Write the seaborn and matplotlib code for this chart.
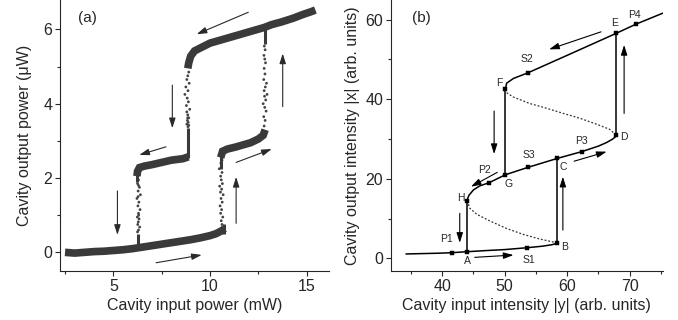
import matplotlib
matplotlib.use("Agg")
import matplotlib.pyplot as plt
import seaborn as sns
from matplotlib.ticker import MultipleLocator

# ---------------- panel (a): measured hysteresis ----------------
# forward sweep, lower branch
a_low_x = [2.5, 3.0, 3.5, 4.0, 4.5, 5.0, 5.5, 6.0, 6.5, 7.0, 7.5, 8.0, 8.5, 9.0, 9.5, 10.0, 10.3, 10.6, 10.75]
a_low_y = [0.0, -0.02, 0.0, 0.02, 0.03, 0.05, 0.07, 0.1, 0.14, 0.18, 0.22, 0.26, 0.3, 0.34, 0.39, 0.45, 0.5, 0.58, 0.64]
# forward sweep, middle branch
a_mid_f_x = [10.55, 10.65, 10.9, 11.3, 11.7, 12.1, 12.5, 12.75, 12.85]
a_mid_f_y = [2.55, 2.72, 2.78, 2.83, 2.89, 2.95, 3.05, 3.15, 3.3]
# upper branch (both directions)
a_up_x = [8.85, 8.9, 9.0, 9.2, 9.5, 10.0, 11.0, 12.0, 12.8, 13.2, 13.7, 14.3, 14.8, 15.2, 15.45]
a_up_y = [4.95, 5.1, 5.28, 5.42, 5.5, 5.63, 5.78, 5.93, 6.05, 6.13, 6.2, 6.3, 6.4, 6.47, 6.52]
# backward sweep, middle branch
a_mid_b_x = [8.88, 8.6, 8.0, 7.5, 7.0, 6.6, 6.35, 6.25, 6.22]
a_mid_b_y = [2.57, 2.52, 2.48, 2.42, 2.36, 2.32, 2.28, 2.18, 2.05]
# short solid vertical pieces at the switching points
a_seg_x = [[8.88, 8.88], [12.82, 12.82], [10.7, 10.7], [10.56, 10.56], [6.24, 6.24], [6.26, 6.26]]
a_seg_y = [[2.55, 3.35], [5.6, 6.1], [0.5, 0.75], [2.25, 2.75], [1.9, 2.3], [0.1, 0.5]]
# sparse points on the switching transitions
a_dot_x = [10.62, 10.58, 10.66, 10.55, 10.6, 10.52, 10.63, 10.57, 10.68, 10.54, 10.6, 10.5, 10.64, 10.58, 10.55, 10.62, 10.48, 10.6, 10.56, 10.62,
           12.8, 12.85, 12.78, 12.9, 12.83, 12.75, 12.88, 12.82, 12.95, 12.8, 12.86, 12.92, 12.78, 12.84, 12.8, 12.87, 12.83, 12.79, 12.85, 12.81,
           8.9, 8.85, 8.8, 8.92, 8.75, 8.86, 8.7, 8.82, 8.88, 8.78, 8.95, 8.8, 8.85, 8.9, 8.83, 8.87, 8.8, 8.9, 8.86, 8.84,
           6.3, 6.25, 6.35, 6.28, 6.4, 6.22, 6.32, 6.27, 6.38, 6.3, 6.24, 6.33, 6.29, 6.26, 6.36, 6.3, 6.25, 6.31, 6.28, 6.3]
a_dot_y = [0.75, 0.85, 0.95, 1.05, 1.15, 1.25, 1.35, 1.45, 1.55, 1.62, 1.7, 1.78, 1.85, 1.95, 2.05, 2.15, 2.25, 2.3, 2.4, 2.48,
           3.4, 3.55, 3.65, 3.8, 3.9, 4.0, 4.1, 4.2, 4.25, 4.35, 4.45, 4.55, 4.65, 4.8, 4.95, 5.1, 5.2, 5.3, 5.45, 5.55,
           4.85, 4.75, 4.65, 4.55, 4.45, 4.35, 4.25, 4.15, 4.05, 3.95, 3.85, 3.78, 3.7, 3.62, 3.55, 3.5, 3.45, 3.42, 3.38, 3.62,
           1.95, 1.85, 1.75, 1.65, 1.55, 1.45, 1.35, 1.25, 1.15, 1.05, 0.95, 0.9, 0.82, 0.75, 0.68, 0.6, 0.55, 1.0, 1.5, 1.8]
# arrows (start x, start y, end x, end y)
a_arrows = [(11.98, 6.46, 9.31, 5.87), (8.05, 4.50, 8.05, 3.34), (7.72, 2.84, 6.34, 2.62),
            (5.21, 1.65, 5.21, 0.47), (7.21, -0.28, 9.57, -0.07), (11.35, 0.78, 11.35, 2.03),
            (11.35, 2.42, 13.19, 2.78), (13.76, 3.92, 13.76, 5.35)]

# ---------------- panel (b): calculated S-curve ----------------
b_low_y = [34.2, 37.0, 39.6, 41.5, 44.0, 47.0, 50.0, 53.6, 56.0, 57.5, 58.4]
b_low_x = [1.1, 1.2, 1.3, 1.42, 1.67, 1.95, 2.2, 2.67, 3.05, 3.4, 3.77]
b_unst1_y = [58.4, 57.5, 55.6, 53.0, 50.3, 47.6, 45.5, 44.4, 44.0]
b_unst1_x = [3.77, 4.2, 4.85, 6.0, 7.5, 9.4, 11.1, 12.6, 14.4]
b_mid_y = [44.0, 44.1, 44.3, 45.0, 46.0, 47.5, 50.1, 53.8, 58.4, 62.3, 65.0, 66.3, 67.2, 67.7, 67.8]
b_mid_x = [14.4, 15.2, 15.9, 17.2, 18.2, 19.0, 21.0, 22.9, 25.1, 26.8, 28.2, 29.1, 29.9, 30.5, 31.0]
b_unst2_y = [67.8, 66.8, 64.7, 62.0, 59.4, 56.7, 54.0, 51.4, 50.4, 50.1]
b_unst2_x = [31.0, 32.4, 33.7, 35.2, 36.4, 37.7, 38.9, 40.5, 41.5, 42.5]
b_up_y = [50.1, 50.3, 51.4, 53.7, 60.7, 67.8, 70.95, 75.3]
b_up_x = [42.5, 44.0, 45.2, 46.6, 51.5, 56.5, 58.8, 61.6]
b_jumps = [(44.0, 1.67, 14.4), (58.4, 3.77, 25.1), (67.8, 31.0, 56.5), (50.1, 42.5, 21.0)]
b_pt_names = ["P1", "A", "S1", "B", "H", "P2", "G", "S3", "C", "P3", "D", "F", "S2", "E", "P4"]
b_pt_y = [41.5, 44.0, 53.6, 58.4, 44.0, 47.5, 50.1, 53.8, 58.4, 62.3, 67.8, 50.1, 53.7, 67.8, 70.95]
b_pt_x = [1.42, 1.67, 2.67, 3.77, 14.4, 19.0, 21.0, 22.9, 25.1, 26.8, 31.0, 42.5, 46.6, 56.5, 58.8]
b_lab_y = [40.7, 44.1, 53.8, 59.6, 43.0, 46.7, 50.6, 53.9, 59.4, 62.3, 69.1, 49.1, 53.6, 67.5, 70.7]
b_lab_x = [4.8, -0.6, -0.4, 2.9, 15.1, 22.2, 18.6, 25.95, 22.9, 29.5, 30.6, 44.0, 50.0, 59.0, 61.1]
b_arrows = [(65.4, 56.9, 57.1, 52.5), (48.3, 37.0, 48.3, 26.2), (48.8, 21.6, 44.6, 18.0),
            (42.8, 11.3, 42.8, 3.9), (45.2, 0.25, 51.4, 0.83), (59.3, 7.1, 59.3, 20.5),
            (61.1, 24.4, 66.3, 26.8), (69.1, 36.4, 69.1, 53.6)]

sns.set_style("ticks")
plt.rcParams["font.family"] = ["Liberation Sans", "DejaVu Sans"]
plt.rcParams["axes.linewidth"] = 0.8

fig = plt.figure(figsize=(6.78, 3.2), dpi=100)
axa = fig.add_axes([0.0885, 0.153, 0.3972, 0.847])
axb = fig.add_axes([0.5767, 0.153, 0.4007, 0.847])

band = "#3a3a3a"
kw_band = dict(color=band, lw=5.5, sort=False, estimator=None, legend=False,
               solid_capstyle="butt", solid_joinstyle="miter")
sns.lineplot(x=a_low_x, y=a_low_y, ax=axa, **kw_band)
sns.lineplot(x=a_mid_f_x, y=a_mid_f_y, ax=axa, **kw_band)
sns.lineplot(x=a_up_x, y=a_up_y, ax=axa, **kw_band)
sns.lineplot(x=a_mid_b_x, y=a_mid_b_y, ax=axa, **kw_band)
for sx, sy in zip(a_seg_x, a_seg_y):
    sns.lineplot(x=sx, y=sy, ax=axa, color=band, lw=2.2, sort=False, estimator=None, legend=False,
                 solid_capstyle="butt")
sns.scatterplot(x=a_dot_x, y=a_dot_y, ax=axa, s=4, color="#444444", edgecolor="none", legend=False)
for x0, y0, x1, y1 in a_arrows:
    axa.annotate("", xy=(x1, y1), xytext=(x0, y0),
                 arrowprops=dict(arrowstyle="-|>,head_length=0.75,head_width=0.24", lw=0.8,
                                 color="#2a2a2a", shrinkA=0, shrinkB=0, mutation_scale=8))

axa.set_xlim(2.24, 16.17)
axa.set_ylim(-0.503, 6.79)
axa.xaxis.set_major_locator(MultipleLocator(5))
axa.xaxis.set_minor_locator(MultipleLocator(2.5))
axa.yaxis.set_major_locator(MultipleLocator(2))
axa.yaxis.set_minor_locator(MultipleLocator(1))
axa.set_xlabel("Cavity input power (mW)", fontsize=11.5, labelpad=3)
axa.set_ylabel("Cavity output power (μW)", fontsize=11.5, labelpad=8)
axa.text(0.066, 0.935, "(a)", transform=axa.transAxes, fontsize=11, va="center", ha="left")

# panel b
sns.lineplot(x=b_low_y, y=b_low_x, ax=axb, color="black", lw=1.1, sort=False, estimator=None, legend=False)
sns.lineplot(x=b_mid_y, y=b_mid_x, ax=axb, color="black", lw=1.1, sort=False, estimator=None, legend=False)
sns.lineplot(x=b_up_y, y=b_up_x, ax=axb, color="black", lw=1.1, sort=False, estimator=None, legend=False)
sns.lineplot(x=b_unst1_y, y=b_unst1_x, ax=axb, color="#333333", lw=0.9, sort=False, estimator=None,
             legend=False, linestyle=(0, (1.5, 1.5)))
sns.lineplot(x=b_unst2_y, y=b_unst2_x, ax=axb, color="#333333", lw=0.9, sort=False, estimator=None,
             legend=False, linestyle=(0, (1.5, 1.5)))
for xv, ya, yb in b_jumps:
    sns.lineplot(x=[xv, xv], y=[ya, yb], ax=axb, color="black", lw=1.1, sort=False, estimator=None, legend=False)
sns.scatterplot(x=b_pt_y, y=b_pt_x, ax=axb, marker="s", s=10, color="black", edgecolor="black", linewidth=0.3, legend=False, zorder=5)
for name, lx, ly in zip(b_pt_names, b_lab_y, b_lab_x):
    axb.text(lx, ly, name, fontsize=7.5, ha="center", va="center")
for x0, y0, x1, y1 in b_arrows:
    axb.annotate("", xy=(x1, y1), xytext=(x0, y0),
                 arrowprops=dict(arrowstyle="-|>,head_length=0.75,head_width=0.24", lw=0.8,
                                 color="black", shrinkA=0, shrinkB=0, mutation_scale=8))

axb.set_xlim(31.8, 75.27)
axb.set_ylim(-3.19, 64.9)
axb.xaxis.set_major_locator(MultipleLocator(10))
axb.xaxis.set_minor_locator(MultipleLocator(5))
axb.yaxis.set_major_locator(MultipleLocator(20))
axb.yaxis.set_minor_locator(MultipleLocator(10))
axb.set_xlabel("Cavity input intensity |y| (arb. units)", fontsize=11.5, labelpad=3)
axb.set_ylabel("Cavity output intensity |x| (arb. units)", fontsize=11.5, labelpad=4)
axb.text(0.077, 0.935, "(b)", transform=axb.transAxes, fontsize=11, va="center", ha="left")

for ax in (axa, axb):
    sns.despine(ax=ax)
    ax.tick_params(which="major", length=3.5, width=0.8, labelsize=11.5, pad=2)
    ax.tick_params(which="minor", length=2.2, width=0.8)

fig.savefig("out.png", dpi=100)
